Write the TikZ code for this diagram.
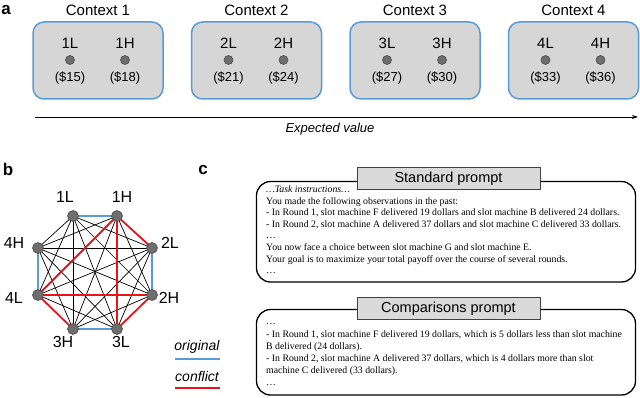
\documentclass[tikz,border=0pt]{standalone}
\usepackage{fontspec}
\setmainfont{Liberation Sans}
\newfontfamily\tnr{Liberation Serif}
\usetikzlibrary{arrows.meta}
\definecolor{boxblue}{HTML}{5B9BD5}
\definecolor{boxgray}{HTML}{D6D6D6}
\definecolor{dotgray}{HTML}{6E6E6E}
\definecolor{confred}{HTML}{E8141C}
\definecolor{titlegray}{HTML}{DADADA}
\tikzset{
  panel/.style={font=\fontsize{17}{17}\selectfont\bfseries, inner sep=0pt},
  ctxbox/.style={draw=boxblue, line width=1.5pt, fill=boxgray, rounded corners=11pt, minimum width=130pt, minimum height=77pt, inner sep=0pt},
  ctxlab/.style={font=\fontsize{15}{15}\selectfont, inner sep=0pt},
  optlab/.style={font=\fontsize{15}{15}\selectfont, inner sep=0pt},
  price/.style={font=\fontsize{13}{13}\selectfont, inner sep=0pt},
  dot/.style={circle, fill=dotgray, draw=black!70, line width=0.6pt, minimum size=9pt, inner sep=0pt},
  gnode/.style={circle, fill=dotgray, draw=black!70, line width=0.6pt, minimum size=11pt, inner sep=0pt},
  glab/.style={font=\fontsize{16}{16}\selectfont, inner sep=0pt},
  bedge/.style={black, line width=0.7pt},
  oedge/.style={boxblue, line width=1.8pt},
  cedge/.style={confred, line width=1.8pt},
  leglab/.style={font=\fontsize{14}{14}\selectfont\itshape, inner sep=0pt},
  outerbox/.style={draw=black, line width=1.3pt, rounded corners=14pt},
  titlebox/.style={draw=black!75, line width=1pt, fill=titlegray, minimum width=183pt, minimum height=22pt, inner sep=0pt, font=\fontsize{14.5}{14.5}\selectfont},
  ptext/.style={font=\tnr\fontsize{9.8}{11.5}\selectfont, inner sep=0pt, anchor=base west},
}
\begin{document}
\begin{tikzpicture}[x=1pt,y=-1pt]
\useasboundingbox (0,0) rectangle (640,398);
% ---------- panel a ----------
\node[panel] (pa) at (6,10) {a};
\foreach \i/\cx/\lv/\hv in {1/98/15/18, 2/256.5/21/24, 3/415/27/30, 4/573.5/33/36}{
  \node[ctxlab] (ctx\i) at (\cx,10) {Context \i};
  \node[ctxbox] (box\i) at (\cx,60.5) {};
  \node[optlab] (lab\i L) at (\cx-28,43) {\i L};
  \node[optlab] (lab\i H) at (\cx+27,43) {\i H};
  \node[dot] (dot\i L) at (\cx-28,60) {};
  \node[dot] (dot\i H) at (\cx+27,60) {};
  \node[price] (pr\i L) at (\cx-28,78) {(\$\lv)};
  \node[price] (pr\i H) at (\cx+27,78) {(\$\hv)};
}
\coordinate (axL) at (35,117);
\coordinate (axR) at (638,117);
\draw[line width=0.9pt, -{Stealth[length=6pt,width=4pt]}] (axL) -- (axR);
\node[font=\fontsize{13}{13}\selectfont\itshape, inner sep=0pt] (ev) at (330,129) {Expected value};
% ---------- panel b ----------
\node[panel] (pb) at (8,169) {b};
\coordinate (c1L) at (73,216);
\coordinate (c1H) at (117,216);
\coordinate (c2L) at (152,248);
\coordinate (c2H) at (152,295);
\coordinate (c3L) at (117,329);
\coordinate (c3H) at (73,329);
\coordinate (c4L) at (38,295);
\coordinate (c4H) at (38,248);
% black edges
\foreach \a/\b in {1L/2L,1L/2H,1L/3L,1L/3H,1L/4L,1L/4H,
                   1H/2H,1H/3H,1H/4H,
                   2L/3L,2L/3H,2L/4L,2L/4H,
                   2H/3H,2H/4H,
                   3L/4L,3L/4H,
                   3H/4H}{
  \draw[bedge] (c\a) -- (c\b);
}
% original edges
\foreach \a/\b in {1L/1H,2L/2H,3L/3H,4L/4H}{
  \draw[oedge] (c\a) -- (c\b);
}
% conflict edges
\foreach \a/\b in {1H/2L,1H/3L,1H/4L,2H/3L,2H/4L,4L/3H}{
  \draw[cedge] (c\a) -- (c\b);
}
\foreach \n in {1L,1H,2L,2H,3L,3H,4L,4H}{
  \node[gnode] (g\n) at (c\n) {};
}
\node[glab] (t1L) at (65,197) {1L};
\node[glab] (t1H) at (122,197) {1H};
\node[glab] (t2L) at (170,243) {2L};
\node[glab] (t2H) at (169,298) {2H};
\node[glab] (t3L) at (121,342) {3L};
\node[glab] (t3H) at (63,342) {3H};
\node[glab] (t4L) at (14,298) {4L};
\node[glab] (t4H) at (14,243) {4H};
% legend
\node[leglab] (lorig) at (197,347) {original};
\coordinate (lo1) at (175,359);
\coordinate (lo2) at (220,359);
\draw[boxblue, line width=1.6pt] (lo1) -- (lo2);
\node[leglab] (lconf) at (197,376) {conflict};
\coordinate (lc1) at (175,388);
\coordinate (lc2) at (220,388);
\draw[confred, line width=1.6pt] (lc1) -- (lc2);
% ---------- panel c ----------
\node[panel] (pc) at (203,170) {c};
\draw[outerbox] (256.5,181.5) rectangle (635.5,282);
\node[titlebox] (std) at (448.5,178.5) {Standard prompt};
\node[ptext] (s1) at (266,193) {\itshape …Task instructions…};
\node[ptext] (s2) at (266,204.5) {You made the following observations in the past:};
\node[ptext] (s3) at (266,216) {- In Round 1, slot machine F delivered 19 dollars and slot machine B delivered 24 dollars.};
\node[ptext] (s4) at (266,227.5) {- In Round 2, slot machine A delivered 37 dollars and slot machine C delivered 33 dollars.};
\node[ptext] (s5) at (266,239) {…};
\node[ptext] (s6) at (266,250.5) {You now face a choice between slot machine G and slot machine E.};
\node[ptext] (s7) at (266,262) {Your goal is to maximize your total payoff over the course of several rounds.};
\node[ptext] (s8) at (266,273.5) {…};
\draw[outerbox] (256.5,309.5) rectangle (635.5,395);
\node[titlebox] (cmp) at (448.5,308.5) {Comparisons prompt};
\node[ptext] (k1) at (266,324.5) {…};
\node[ptext] (k2) at (266,337) {- In Round 1, slot machine F delivered 19 dollars, which is 5 dollars less than slot machine};
\node[ptext] (k3) at (266,349) {B delivered (24 dollars).};
\node[ptext] (k4) at (266,361) {- In Round 2, slot machine A delivered 37 dollars, which is 4 dollars more than slot};
\node[ptext] (k5) at (266,373) {machine C delivered (33 dollars).};
\node[ptext] (k6) at (266,385.5) {…};
\end{tikzpicture}
\end{document}
